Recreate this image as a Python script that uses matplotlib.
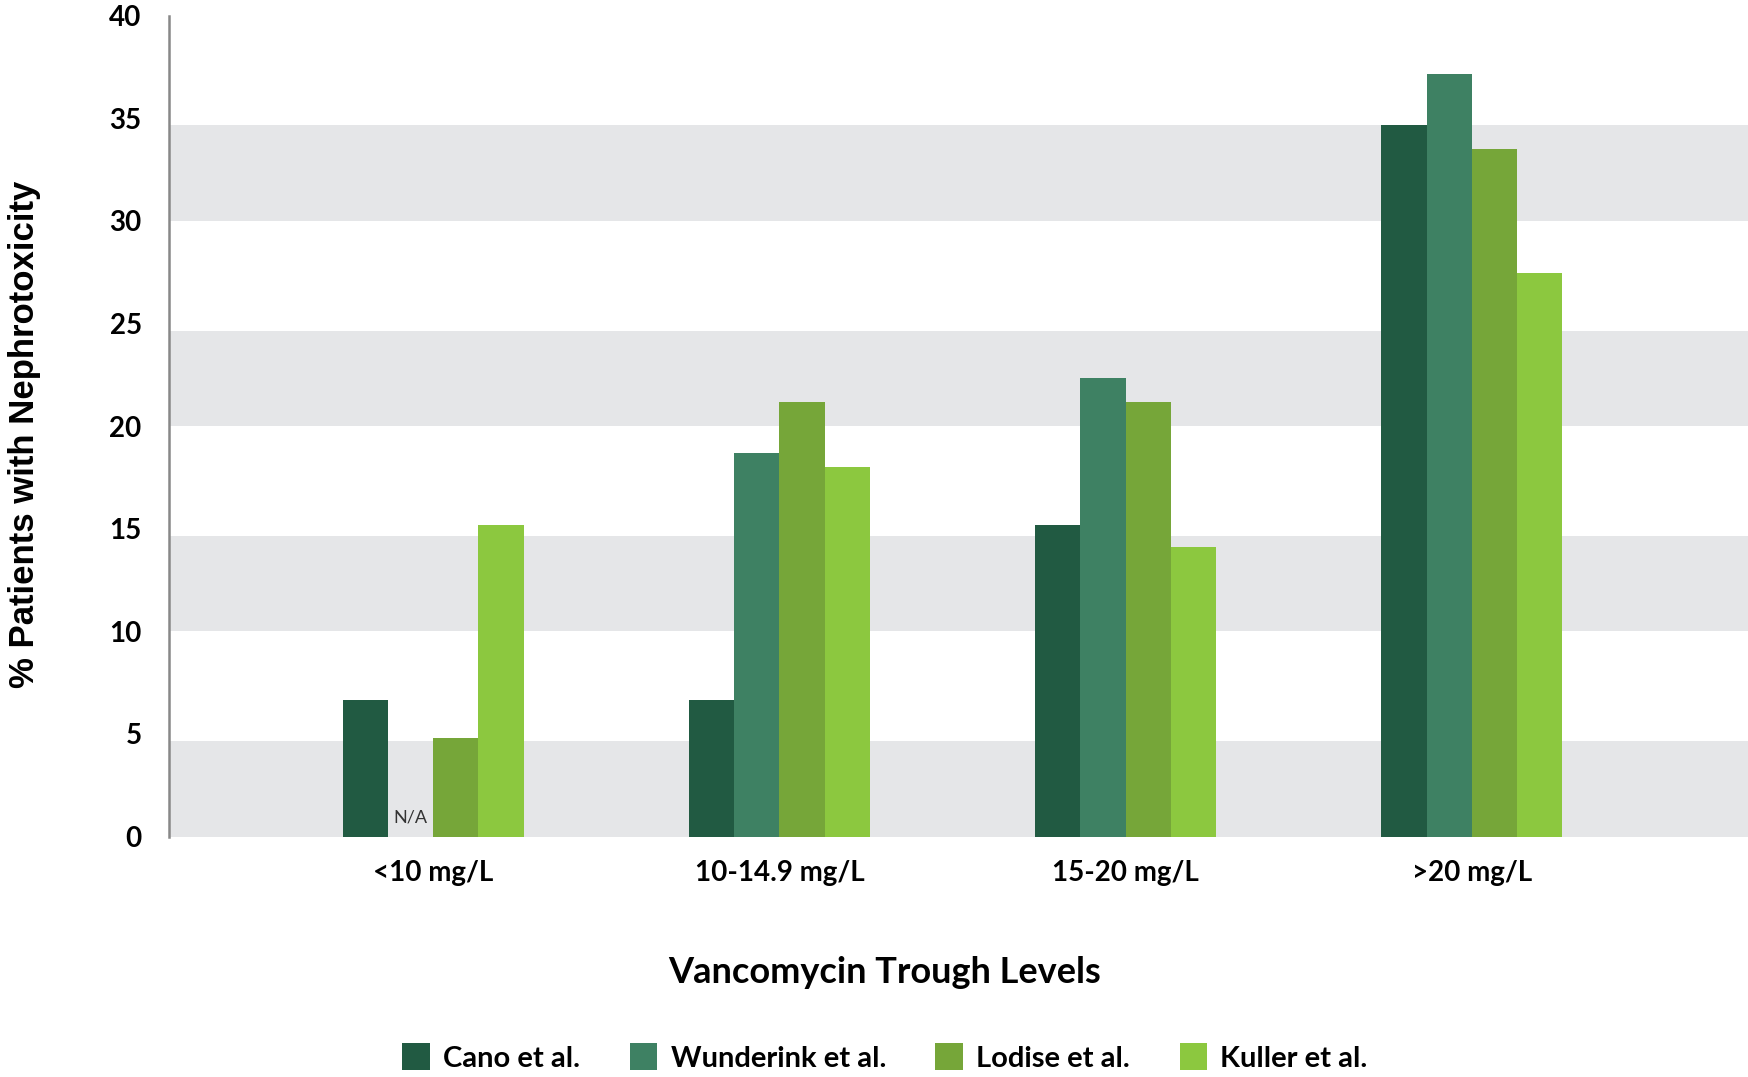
import numpy as np
import matplotlib.pyplot as plt
from matplotlib.patches import Patch

# ------------------------------------------------------------
# data
# ------------------------------------------------------------
CATEGORIES = ["<10 mg/L", "10-14.9 mg/L", "15-20 mg/L", ">20 mg/L"]
STUDIES = ["Cano et al.", "Wunderink et al.", "Lodise et al.", "Kuller et al."]

cano = [6.65, 6.65, 15.17, 34.65]
wunderink = [np.nan, 18.68, 22.33, 37.15]   # N/A for <10 mg/L
lodise = [4.80, 21.17, 21.17, 33.50]
kuller = [15.16, 18.03, 14.13, 27.48]

SERIES = [cano, wunderink, lodise, kuller]
COLORS = ["#215a42", "#3e8163", "#76a639", "#8cc83f"]

Y_TICKS = [0, 5, 10, 15, 20, 25, 30, 35, 40]
BAND_STARTS = [0, 10, 20, 30]
BAND_HEIGHT = 4.65

FONT = "Lato"

# ------------------------------------------------------------
# figure
# ------------------------------------------------------------
fig = plt.figure(figsize=(17.49, 10.77), dpi=100)
ax = fig.add_axes([0.0969, 0.2232, 0.9031, 0.7623])

# grey background stripes
for b in BAND_STARTS:
    ax.axhspan(b, b + BAND_HEIGHT, color="#e5e6e8", lw=0, zorder=0)

x = np.arange(len(CATEGORIES))
width = 0.1305
offsets = (np.arange(len(SERIES)) - 1.5) * width

for vals, off, col, name in zip(SERIES, offsets, COLORS, STUDIES):
    v = np.nan_to_num(np.array(vals, dtype=float))
    ax.bar(x + off, v, width=width, color=col, lw=0, zorder=2, label=name)

# N/A marker where Wunderink has no value
for i, v in enumerate(wunderink):
    if np.isnan(v):
        ax.text(x[i] + offsets[1], 0.93, "N/A", ha="center", va="center",
                fontsize=13, color="#333333", family=FONT, zorder=3)

ax.set_xlim(-0.7617, 3.8007)
ax.set_ylim(0, 40)
ax.set_yticks(Y_TICKS)
ax.set_yticklabels([str(t) for t in Y_TICKS], family=FONT, fontsize=20,
                   fontweight="bold")
ax.set_xticks(x)
ax.set_xticklabels(CATEGORIES, family=FONT, fontsize=20, fontweight="bold")
ax.tick_params(axis="y", length=0, pad=20)
ax.tick_params(axis="x", length=0, pad=17)

for s in ["top", "right", "bottom"]:
    ax.spines[s].set_visible(False)
ax.spines["left"].set_color("#888888")
ax.spines["left"].set_linewidth(1.8)

ax.set_ylabel("% Patients with Nephrotoxicity", family="Liberation Sans",
              fontsize=25, fontweight="bold")
ax.yaxis.set_label_coords(-0.0815, 0.49)

fig.text(0.506, 0.097, "Vancomycin Trough Levels", ha="center", va="center",
         family=FONT, fontsize=26, fontweight="bold")

handles = [Patch(facecolor=c, edgecolor="none", label=n) for c, n in zip(COLORS, STUDIES)]
fig.legend(handles=handles, loc="center", bbox_to_anchor=(0.506, 0.018), ncol=4,
           frameon=False, prop={"family": FONT, "size": 21, "weight": "bold"},
           handlelength=0.95, handleheight=1.05, handletextpad=0.45,
           columnspacing=1.7)

fig.savefig("out.png", dpi=100)
